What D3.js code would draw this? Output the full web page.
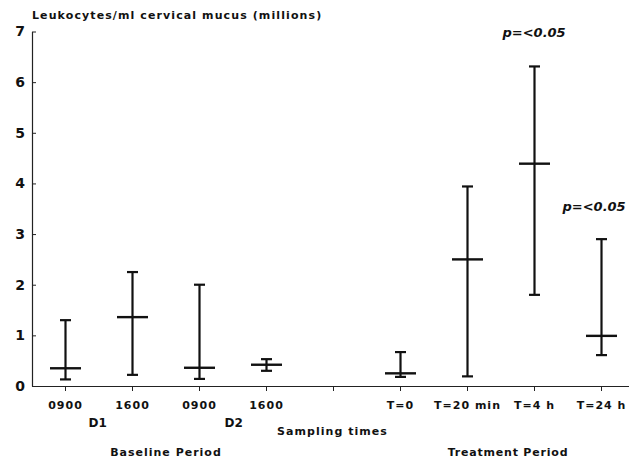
<!DOCTYPE html>
<html>
<head>
<meta charset="utf-8">
<script src="https://cdn.jsdelivr.net/npm/d3@7"></script>
<style>
  body { margin: 0; background: #fff; }
  text { font-family: "DejaVu Sans", sans-serif; font-weight: bold; fill: #111; }
</style>
</head>
<body>
<div id="wrapper"></div>
<script>
// slots along the x axis (slot "gap" is the empty one between periods)
const slots = ["b1", "b2", "b3", "b4", "gap", "t1", "t2", "t3", "t4"]
const slotLabels = ["0900", "1600", "0900", "1600", "", "T=0", "T=20 min", "T=4 h", "T=24 h"]

// leukocytes (millions / ml)
const means = [0.35, 1.36, 0.36, 0.42, null, 0.25, 2.5, 4.39, 0.99]
const highs = [1.3, 2.25, 2.0, 0.53, null, 0.67, 3.94, 6.31, 2.9]
const lows = [0.13, 0.22, 0.14, 0.3, null, 0.18, 0.19, 1.8, 0.61]

const yTicks = [0, 1, 2, 3, 4, 5, 6, 7]
const pNotes = [
  { slot: "t3", value: 6.9, text: "p=<0.05" },
  { slot: "t4", value: 3.45, text: "p=<0.05" },
]

const data = slots
  .map((s, i) => ({ slot: s, mean: means[i], high: highs[i], low: lows[i] }))
  .filter((d) => d.mean != null)

const width = 629
const height = 459
const margin = { top: 31.5, left: 32, bottom: 73 }

const svg = d3
  .select("#wrapper")
  .append("svg")
  .attr("width", width)
  .attr("height", height)

const xScale = d3.scaleBand().domain(slots).range([margin.left, 635]).padding(0)
const cx = (s) => xScale(s) + xScale.bandwidth() / 2

const yScale = d3
  .scaleLinear()
  .domain([0, 7])
  .range([height - margin.bottom, margin.top])

// axes
const xAxis = svg
  .append("g")
  .attr("transform", `translate(0, ${yScale(0)})`)
  .call(
    d3
      .axisBottom(xScale)
      .tickSize(5)
      .tickSizeOuter(0)
      .tickPadding(10)
      .tickFormat((d, i) => slotLabels[i])
  )
xAxis.select(".domain").attr("stroke", "#222").attr("stroke-width", 1.2)
xAxis.selectAll(".tick line").attr("stroke", "#222")
xAxis
  .selectAll(".tick text")
  .style("font-size", "11px")
  .style("letter-spacing", "1px")
  .attr("fill", "#111")

const yAxis = svg
  .append("g")
  .attr("transform", `translate(${margin.left}, 0)`)
  .call(
    d3
      .axisLeft(yScale)
      .tickValues(yTicks)
      .tickFormat(d3.format("d"))
      .tickSize(-4)
      .tickSizeOuter(0)
      .tickPadding(7)
  )
yAxis.select(".domain").attr("stroke", "#222").attr("stroke-width", 1.2)
yAxis.selectAll(".tick line").attr("stroke", "#222")
yAxis.selectAll(".tick text").style("font-size", "14px").attr("fill", "#111")

// error bars
const bars = svg.append("g").attr("stroke", "#111").attr("fill", "none")
bars
  .selectAll(".range")
  .data(data)
  .join("line")
  .attr("x1", (d) => cx(d.slot))
  .attr("x2", (d) => cx(d.slot))
  .attr("y1", (d) => yScale(d.low))
  .attr("y2", (d) => yScale(d.high))
  .attr("stroke-width", 2.2)

const capW = 11
const meanW = 31
bars
  .selectAll(".capHi")
  .data(data)
  .join("line")
  .attr("x1", (d) => cx(d.slot) - capW / 2)
  .attr("x2", (d) => cx(d.slot) + capW / 2)
  .attr("y1", (d) => yScale(d.high))
  .attr("y2", (d) => yScale(d.high))
  .attr("stroke-width", 2.2)
bars
  .selectAll(".capLo")
  .data(data)
  .join("line")
  .attr("x1", (d) => cx(d.slot) - capW / 2)
  .attr("x2", (d) => cx(d.slot) + capW / 2)
  .attr("y1", (d) => yScale(d.low))
  .attr("y2", (d) => yScale(d.low))
  .attr("stroke-width", 2.2)
bars
  .selectAll(".mean")
  .data(data)
  .join("line")
  .attr("x1", (d) => cx(d.slot) - meanW / 2)
  .attr("x2", (d) => cx(d.slot) + meanW / 2)
  .attr("y1", (d) => yScale(d.mean))
  .attr("y2", (d) => yScale(d.mean))
  .attr("stroke-width", 2.4)

// significance notes
svg
  .selectAll(".pnote")
  .data(pNotes)
  .join("text")
  .attr("x", (d) => cx(d.slot) - (d.slot === "t4" ? 39 : 32))
  .attr("y", (d) => yScale(d.value))
  .style("font-size", "13px")
  .style("font-style", "italic")
  .text((d) => d.text)

// labels
svg
  .append("text")
  .attr("x", margin.left)
  .attr("y", 19)
  .style("font-size", "11px")
  .style("letter-spacing", "1.1px")
  .text("Leukocytes/ml cervical mucus (millions)")

const subLabels = [
  { x: cx("b1") + 23, y: 427, text: "D1" },
  { x: cx("b3") + 25, y: 427, text: "D2" },
]
svg
  .selectAll(".sub")
  .data(subLabels)
  .join("text")
  .attr("x", (d) => d.x)
  .attr("y", (d) => d.y)
  .style("font-size", "12px")
  .text((d) => d.text)

svg
  .append("text")
  .attr("x", 277)
  .attr("y", 435)
  .style("font-size", "11px")
  .style("letter-spacing", "1.05px")
  .text("Sampling times")

svg
  .append("text")
  .attr("x", (cx("b1") + cx("b4")) / 2)
  .attr("y", 456)
  .attr("text-anchor", "middle")
  .style("font-size", "11px")
  .style("letter-spacing", "1px")
  .text("Baseline Period")

svg
  .append("text")
  .attr("x", (cx("t1") + cx("t4")) / 2 + 7)
  .attr("y", 456)
  .attr("text-anchor", "middle")
  .style("font-size", "11px")
  .style("letter-spacing", "0.8px")
  .text("Treatment Period")
</script>
</body>
</html>
